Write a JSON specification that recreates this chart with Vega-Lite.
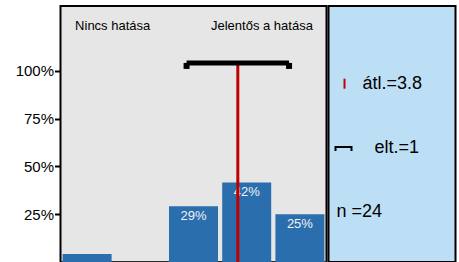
{
  "$schema": "https://vega.github.io/schema/vega-lite/v6.json",
  "padding": {"left": 13.5, "top": 5, "right": 0, "bottom": 0},
  "background": "white",
  "spacing": 0,
  "config": {
    "view": {"stroke": "black", "strokeWidth": 2},
    "font": "Liberation Sans"
  },
  "datasets": {
    "dist": [
      {"cat": 1, "pct": 0.0417},
      {"cat": 2, "pct": 0},
      {"cat": 3, "pct": 0.2917},
      {"cat": 4, "pct": 0.4167},
      {"cat": 5, "pct": 0.25}
    ],
    "stats": [
      {"mean": 3.833, "lo": 2.87, "hi": 4.796, "top": 1.042, "base": 0}
    ],
    "legend": [
      {"item": "mean", "label": "átl.=3.8"},
      {"item": "sd", "label": "elt.=1"},
      {"item": "n", "label": "n =24"}
    ]
  },
  "hconcat": [
    {
      "width": 266,
      "height": 256,
      "view": {"fill": "#e6e6e6"},
      "layer": [
        {
          "data": {"name": "dist"},
          "mark": {"type": "bar", "size": 49, "color": "#2a6ead", "orient": "vertical"},
          "encoding": {
            "x": {
              "field": "cat", "type": "quantitative",
              "scale": {"domain": [0.5, 5.5], "nice": false, "zero": false, "padding": 0},
              "axis": {"labels": false, "ticks": false, "title": null, "grid": false, "domainColor": "#555555", "domainWidth": 2}
            },
            "y": {
              "field": "pct", "type": "quantitative",
              "scale": {"domain": [0, 1.34], "nice": false, "padding": 0},
              "axis": {
                "title": null,
                "values": [0.25, 0.5, 0.75, 1.0],
                "format": ".0%",
                "grid": false,
                "domain": false,
                "tickColor": "black",
                "tickWidth": 2,
                "tickSize": 6,
                "labelPadding": 1,
                "labelFontSize": 15,
                "labelColor": "black",
                "labelFont": "Liberation Sans"
              }
            }
          }
        },
        {
          "data": {"name": "dist"},
          "transform": [{"filter": "datum.pct > 0.1"}],
          "mark": {"type": "text", "color": "#f2f2f2", "fontSize": 13, "baseline": "middle", "dy": 10, "font": "Liberation Sans"},
          "encoding": {
            "x": {"field": "cat", "type": "quantitative"},
            "y": {"field": "pct", "type": "quantitative"},
            "text": {"field": "pct", "type": "quantitative", "format": ".0%"}
          }
        },
        {
          "data": {"name": "stats"},
          "mark": {"type": "rule", "color": "#c00000", "strokeWidth": 3},
          "encoding": {
            "x": {"field": "mean", "type": "quantitative"},
            "y": {"field": "base", "type": "quantitative"},
            "y2": {"field": "top"}
          }
        },
        {
          "data": {"name": "stats"},
          "mark": {"type": "rule", "color": "black", "strokeWidth": 5},
          "encoding": {
            "x": {"field": "lo", "type": "quantitative"},
            "x2": {"field": "hi"},
            "y": {"field": "top", "type": "quantitative"}
          }
        },
        {
          "data": {"name": "stats"},
          "mark": {"type": "point", "shape": "square", "size": 36, "filled": true, "color": "black", "opacity": 1, "yOffset": 3},
          "encoding": {
            "x": {"field": "lo", "type": "quantitative"},
            "y": {"field": "top", "type": "quantitative"}
          }
        },
        {
          "data": {"name": "stats"},
          "mark": {"type": "point", "shape": "square", "size": 36, "filled": true, "color": "black", "opacity": 1, "yOffset": 3},
          "encoding": {
            "x": {"field": "hi", "type": "quantitative"},
            "y": {"field": "top", "type": "quantitative"}
          }
        },
        {
          "data": {"values": [{"label": "Nincs hatása"}]},
          "mark": {"type": "text", "align": "left", "baseline": "middle", "dx": -12, "fontSize": 13, "color": "black", "font": "Liberation Sans"},
          "encoding": {
            "x": {"datum": 1},
            "y": {"datum": 1.236},
            "text": {"field": "label", "type": "nominal"}
          }
        },
        {
          "data": {"values": [{"label": "Jelentős a hatása"}]},
          "mark": {"type": "text", "align": "right", "baseline": "middle", "dx": 13, "fontSize": 13, "color": "black", "font": "Liberation Sans"},
          "encoding": {
            "x": {"datum": 5},
            "y": {"datum": 1.236},
            "text": {"field": "label", "type": "nominal"}
          }
        }
      ]
    },
    {
      "width": 127,
      "height": 256,
      "view": {"fill": "#bddff5"},
      "data": {"name": "legend"},
      "layer": [
        {
          "transform": [{"filter": "datum.item === 'mean'"}],
          "mark": {"type": "tick", "color": "#c00000", "size": 10, "thickness": 2, "xOffset": 16, "opacity": 1},
          "encoding": {
            "x": {"datum": 0, "scale": {"domain": [0, 1], "nice": false, "padding": 0}, "axis": null},
            "y": {
              "field": "item", "type": "nominal",
              "scale": {"type": "point", "domain": ["mean", "sd", "n"], "padding": 1.008, "align": 0.607},
              "axis": null
            }
          }
        },
        {
          "transform": [{"filter": "datum.item === 'sd'"}],
          "mark": {"type": "point", "shape": "M-1,0.4V-0.1H1V0.4", "size": 256, "filled": false, "stroke": "black", "strokeWidth": 2, "opacity": 1, "xOffset": 15},
          "encoding": {
            "x": {"datum": 0},
            "y": {"field": "item", "type": "nominal"}
          }
        },
        {
          "transform": [{"filter": "datum.item === 'mean'"}],
          "mark": {"type": "text", "align": "left", "baseline": "middle", "dx": 34, "fontSize": 18, "color": "black", "font": "Liberation Sans"},
          "encoding": {
            "x": {"datum": 0},
            "y": {"field": "item", "type": "nominal"},
            "text": {"field": "label", "type": "nominal"}
          }
        },
        {
          "transform": [{"filter": "datum.item === 'sd'"}],
          "mark": {"type": "text", "align": "left", "baseline": "middle", "dx": 46, "fontSize": 18, "color": "black", "font": "Liberation Sans"},
          "encoding": {
            "x": {"datum": 0},
            "y": {"field": "item", "type": "nominal"},
            "text": {"field": "label", "type": "nominal"}
          }
        },
        {
          "transform": [{"filter": "datum.item === 'n'"}],
          "mark": {"type": "text", "align": "left", "baseline": "middle", "dx": 8, "fontSize": 18, "color": "black", "font": "Liberation Sans"},
          "encoding": {
            "x": {"datum": 0},
            "y": {"field": "item", "type": "nominal"},
            "text": {"field": "label", "type": "nominal"}
          }
        }
      ]
    }
  ]
}
